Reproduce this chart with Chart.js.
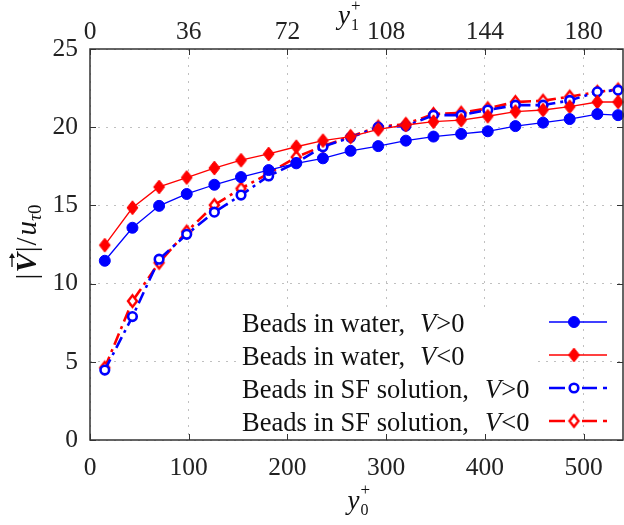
<!DOCTYPE html>
<html><head><meta charset="utf-8">
<script src="https://cdn.jsdelivr.net/npm/chart.js@4/dist/chart.umd.min.js"></script>
<style>html,body{margin:0;padding:0;background:#fff}#w{width:624px;height:525px}</style>
</head><body><div id="w"><canvas id="c" width="624" height="525"></canvas></div>
<script>
// ---- data ----
const xValues  = [15,43,70,98,126,153,181,209,236,264,292,320,348,376,403,431,459,486,514,535];
const waterPos = [11.46,13.57,14.97,15.73,16.32,16.81,17.26,17.69,18.01,18.49,18.79,19.14,19.4,19.57,19.74,20.07,20.29,20.52,20.84,20.77];
const waterNeg = [12.46,14.85,16.18,16.78,17.39,17.89,18.29,18.75,19.14,19.4,19.86,20.14,20.35,20.45,20.7,21.0,21.1,21.31,21.61,21.61];
const sfPos    = [4.47,7.89,11.56,13.15,14.57,15.66,16.88,17.73,18.75,19.35,20.0,20.07,20.77,20.77,21.1,21.41,21.41,21.71,22.26,22.37];
const sfNeg    = [4.62,8.88,11.34,13.32,15.02,16.08,17.04,18.09,18.79,19.4,20.03,20.2,20.84,20.92,21.2,21.61,21.69,21.95,22.26,22.41];
const legendPrefix = ['Beads in water,  ','Beads in water,  ','Beads in SF solution,  ','Beads in SF solution,  '];
const legendSuffix = ['>0','<0','>0','<0'];
const xTicksBottom = [0,100,200,300,400,500];
const xTicksTop = [0,36,72,108,144,180];
const yTicks = [0,5,10,15,20,25];
const xMax = 540;
const topFactor = 0.36;

const BLUE = '#0000ff', RED = '#ff0000';
const SERIF = '"Liberation Serif", "DejaVu Serif", serif';

function pts(ys){ return ys.map((y,i)=>({x:xValues[i], y:y})); }

function diamond(hw, hh, fill, stroke, lw){
  const c = document.createElement('canvas');
  const pad = Math.ceil(lw) + 1;
  c.width = Math.ceil(2*hw + 2*pad); c.height = Math.ceil(2*hh + 2*pad);
  const g = c.getContext('2d');
  const cx = c.width/2, cy = c.height/2;
  g.beginPath(); g.moveTo(cx, cy-hh); g.lineTo(cx+hw, cy); g.lineTo(cx, cy+hh); g.lineTo(cx-hw, cy); g.closePath();
  g.fillStyle = fill; g.fill();
  g.strokeStyle = stroke; g.lineWidth = lw; g.lineJoin = 'miter'; g.stroke();
  return c;
}
const filledDiamond = diamond(5.5, 7, RED, RED, 1);
const openDiamond = diamond(4.5, 5.8, '#fff', RED, 2.4);

const datasets = [
  {data:pts(waterPos), borderColor:BLUE, backgroundColor:BLUE, borderWidth:1.3,
   pointStyle:'circle', pointRadius:5.5, pointBorderWidth:1, pointBackgroundColor:BLUE},
  {data:pts(waterNeg), borderColor:RED, backgroundColor:RED, borderWidth:1.3,
   pointStyle:filledDiamond, pointRadius:6.5, pointBorderWidth:1, pointBackgroundColor:RED},
  {data:pts(sfPos), borderColor:BLUE, backgroundColor:'#fff', borderWidth:2.6, borderDash:[12,5,3,5],
   pointStyle:'circle', pointRadius:4.3, pointBorderWidth:2.6, pointBackgroundColor:'#fff'},
  {data:pts(sfNeg), borderColor:RED, backgroundColor:'#fff', borderWidth:2.6, borderDash:[12,5,3,5],
   pointStyle:openDiamond, pointRadius:5.5, pointBorderWidth:2.4, pointBackgroundColor:'#fff'}
];
datasets.forEach(d=>{ d.tension=0; d.fill=false; d.clip=10; d.xAxisID='x'; d.yAxisID='y'; });

function runs(ctx, list, x, y, align){
  let w = 0;
  list.forEach(r=>{ ctx.font=r.f; r.w = ctx.measureText(r.t).width; w += r.w + (r.dx||0); });
  let cx = align==='center' ? x - w/2 : x;
  list.forEach(r=>{ cx += (r.dx||0); ctx.font=r.f; ctx.fillText(r.t, cx, y + (r.dy||0)); r.x = cx; cx += r.w; });
  return list;
}

const legendBox = {
  id:'legendBox',
  beforeDatasetsDraw(chart){
    const ctx = chart.ctx;
    ctx.save(); ctx.fillStyle = '#fff';
    ctx.fillRect(238, 307, 297, 130);
    ctx.restore();
  }
};

const decor = {
  id:'decor',
  afterDraw(chart){
    const ctx = chart.ctx, a = chart.chartArea;
    const sx = chart.scales.x, sy = chart.scales.y, s2 = chart.scales.x2;
    ctx.save();
    // inward ticks
    ctx.strokeStyle = '#333'; ctx.lineWidth = 1;
    ctx.beginPath();
    xTicksBottom.forEach(v=>{ const p = Math.round(sx.getPixelForValue(v))+0.5; ctx.moveTo(p,a.bottom); ctx.lineTo(p,a.bottom-6); });
    xTicksTop.forEach(v=>{ const p = Math.round(s2.getPixelForValue(v))+0.5; ctx.moveTo(p,a.top); ctx.lineTo(p,a.top+6); });
    yTicks.forEach(v=>{ const p = Math.round(sy.getPixelForValue(v))+0.5; ctx.moveTo(a.left,p); ctx.lineTo(a.left+6,p); ctx.moveTo(a.right,p); ctx.lineTo(a.right-6,p); });
    ctx.stroke();
    // border
    ctx.lineWidth = 1.5; ctx.strokeStyle = '#333';
    ctx.strokeRect(a.left, a.top, a.right-a.left, a.bottom-a.top);

    // legend
    ctx.textBaseline = 'alphabetic'; ctx.textAlign = 'left';
    const rows = [322, 355, 388, 421];
    const italicX = [420, 420, 485, 485];
    const LF = '26.5px ';
    rows.forEach((ry,i)=>{
      ctx.fillStyle = '#111';
      ctx.font = LF + SERIF;
      ctx.fillText(legendPrefix[i], 242, ry+10);
      ctx.font = 'italic ' + LF + SERIF;
      ctx.fillText('V', italicX[i], ry+10);
      const vw = ctx.measureText('V').width;
      ctx.font = LF + SERIF;
      ctx.fillText(legendSuffix[i], italicX[i]+vw, ry+10);
      const d = chart.data.datasets[i];
      ctx.strokeStyle = d.borderColor; ctx.lineWidth = d.borderWidth;
      ctx.setLineDash([]);
      ctx.beginPath();
      if (i < 2) { ctx.moveTo(549, ry); ctx.lineTo(607, ry); }
      else { ctx.moveTo(549, ry); ctx.lineTo(565, ry); ctx.moveTo(582, ry); ctx.lineTo(597, ry); ctx.moveTo(603, ry); ctx.lineTo(607, ry); }
      ctx.stroke();
      if (d.pointStyle === 'circle') {
        ctx.fillStyle = d.pointBackgroundColor; ctx.strokeStyle = d.borderColor; ctx.lineWidth = d.pointBorderWidth;
        ctx.beginPath(); ctx.arc(574, ry, d.pointRadius, 0, Math.PI*2); ctx.fill(); ctx.stroke();
      } else {
        const img = d.pointStyle;
        ctx.drawImage(img, 574 - img.width/2, ry - img.height/2);
      }
    });

    // axis titles
    ctx.fillStyle = '#111';
    // bottom: y_0^+
    let r = runs(ctx, [{t:'y', f:'italic 27px '+SERIF}, {t:'0', f:'16px '+SERIF, dy:6, dx:1}], 358, 509, 'center');
    ctx.font = '17px ' + SERIF; ctx.fillText('+', r[1].x, 495);
    // top: y_1^+
    r = runs(ctx, [{t:'y', f:'italic 27px '+SERIF}, {t:'1', f:'16px '+SERIF, dy:6, dx:1}], 338, 24, 'left');
    ctx.font = '17px ' + SERIF; ctx.fillText('+', r[1].x, 11);
    // y-axis label rotated
    ctx.save();
    ctx.translate(36, 242);
    ctx.rotate(-Math.PI/2);
    r = runs(ctx, [
      {t:'|', f:'29px '+SERIF},
      {t:'V', f:'italic bold 29px '+SERIF, dx:1},
      {t:'|', f:'29px '+SERIF, dx:1},
      {t:'/', f:'29px '+SERIF, dx:1},
      {t:'u', f:'italic 29px '+SERIF, dx:2},
      {t:'τ', f:'italic 19px '+SERIF, dy:5},
      {t:'0', f:'19px '+SERIF, dy:5}
    ], 0, 0, 'center');
    const vx = r[1].x + r[1].w/2 + 2;
    ctx.strokeStyle = '#111'; ctx.lineWidth = 1.3;
    ctx.beginPath(); ctx.moveTo(vx-6, -24); ctx.lineTo(vx+6, -24); ctx.stroke();
    ctx.beginPath(); ctx.moveTo(vx+8, -24); ctx.lineTo(vx+3, -27); ctx.lineTo(vx+3, -21); ctx.closePath(); ctx.fillStyle='#111'; ctx.fill();
    ctx.restore();
    ctx.restore();
  }
};

const tickFont = {family: SERIF, size: 25.5};
new Chart(document.getElementById('c'), {
  type:'line',
  data:{datasets},
  options:{
    responsive:false, animation:false, devicePixelRatio:1,
    layout:{autoPadding:false, padding:{left:0,right:1,top:0,bottom:0}},
    plugins:{legend:{display:false}, tooltip:{enabled:false}},
    scales:{
      x:{type:'linear', position:'bottom', min:0, max:xMax,
         afterBuildTicks(s){ s.ticks = xTicksBottom.map(v=>({value:v})); },
         afterFit(s){ s.height = 85; },
         ticks:{font:tickFont, color:'#222', padding:13, maxRotation:0},
         grid:{color:'#c0c0c0', lineWidth:1, drawTicks:false},
         border:{display:false, dash:[2,6]}},
      x2:{type:'linear', position:'top', min:0, max:xMax*topFactor,
         afterBuildTicks(s){ s.ticks = xTicksTop.map(v=>({value:v})); },
         afterFit(s){ s.height = 49; },
         ticks:{font:tickFont, color:'#222', padding:1, maxRotation:0},
         grid:{drawOnChartArea:false, drawTicks:false},
         border:{display:false}},
      y:{type:'linear', position:'left', min:0, max:25,
         afterBuildTicks(s){ s.ticks = yTicks.map(v=>({value:v})); },
         afterFit(s){ s.width = 90; },
         ticks:{font:tickFont, color:'#222', padding:12},
         grid:{color:'#c0c0c0', lineWidth:1, drawTicks:false},
         border:{display:false, dash:[2,6]}}
    }
  },
  plugins:[legendBox, decor]
});
</script></body></html>
